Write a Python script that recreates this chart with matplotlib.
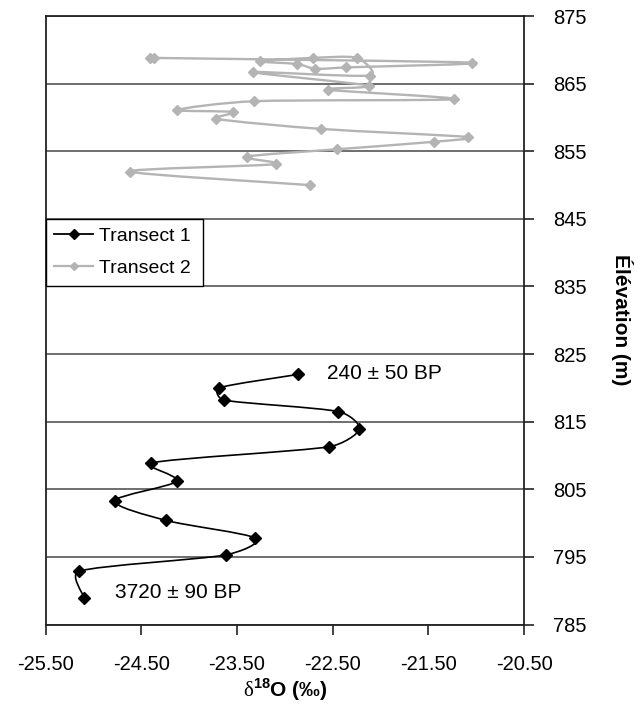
import numpy as np
import matplotlib
matplotlib.use("Agg")
import matplotlib.pyplot as plt
from matplotlib.path import Path
from matplotlib.patches import PathPatch
from matplotlib.lines import Line2D

plt.rcParams['font.family'] = ['Liberation Sans', 'DejaVu Sans']
plt.rcParams['mathtext.fontset'] = 'custom'
plt.rcParams['mathtext.rm'] = 'Liberation Serif'
plt.rcParams['mathtext.bf'] = 'Liberation Sans:bold'

# Transect 1 (noir)
t1_d18o = [-22.86, -23.69, -23.64, -22.44, -22.22, -22.54, -24.40,
           -24.13, -24.78, -24.24, -23.31, -23.62, -25.15, -25.10]
t1_elev = [822.0, 820.0, 818.2, 816.5, 813.9, 811.3, 808.9,
           806.2, 803.3, 800.4, 797.8, 795.3, 792.9, 789.0]

# Transect 2 (gris)
t2_d18o = [-22.74, -24.62, -23.09, -23.40, -22.45, -21.44, -21.09,
           -22.62, -23.72, -23.54, -24.13, -23.32, -21.23, -22.55,
           -22.12, -23.33, -22.11, -22.25, -22.71, -23.26, -22.87,
           -22.68, -22.36, -21.04, -24.37, -24.41]
t2_elev = [850.0, 852.0, 853.1, 854.2, 855.3, 856.4, 857.1,
           858.3, 859.8, 860.8, 861.1, 862.4, 862.7, 864.1,
           864.7, 866.7, 866.2, 868.8, 868.8, 868.3, 867.9,
           867.2, 867.4, 868.1, 868.8, 868.8]

x_ticks = [-25.5, -24.5, -23.5, -22.5, -21.5, -20.5]
y_ticks = [785, 795, 805, 815, 825, 835, 845, 855, 865, 875]

labels_ages = ['240 ± 50 BP', '3720 ± 90 BP']
ages_pos = [(-22.56, 822.1), (-24.78, 789.8)]

GRAY = '#b4b4b4'


def smooth_path(ax, x, y, k=7.0, cap=0.4):
    # courbe lissee facon Excel (Catmull-Rom en pixels, poignees bornees)
    p = ax.transData.transform(np.column_stack([x, y]))
    n = len(p)

    def clamp(v, lim):
        m = np.hypot(*v)
        return v * (lim / m) if m > lim else v

    verts = [p[0]]
    codes = [Path.MOVETO]
    for i in range(n - 1):
        seg = np.hypot(*(p[i + 1] - p[i]))
        v1 = clamp((p[i + 1] - p[max(i - 1, 0)]) / k, cap * seg)
        v2 = clamp((p[min(i + 2, n - 1)] - p[i]) / k, cap * seg)
        verts += [p[i] + v1, p[i + 1] - v2, p[i + 1]]
        codes += [Path.CURVE4] * 3
    inv = ax.transData.inverted()
    return Path(inv.transform(np.array(verts)), codes)


fig = plt.figure(figsize=(6.41, 7.08), dpi=100)
ax = fig.add_axes([0.0713, 0.1178, 0.7462, 0.8596])
ax.set_xlim(-25.5, -20.5)
ax.set_ylim(785, 875)

for y in y_ticks:
    ax.axhline(y, color='#555555', lw=1.2, zorder=1)

ax.add_patch(PathPatch(smooth_path(ax, t2_d18o, t2_elev), fc='none', ec=GRAY, lw=1.7, zorder=2))
ax.plot(t2_d18o, t2_elev, 'D', color=GRAY, ms=5.6, zorder=3)

ax.add_patch(PathPatch(smooth_path(ax, t1_d18o, t1_elev), fc='none', ec='black', lw=1.2, zorder=4))
ax.plot(t1_d18o, t1_elev, 'D', color='black', ms=5.8, zorder=5)

for txt, (x, y) in zip(labels_ages, ages_pos):
    ax.text(x, y, txt, ha='left', va='center', fontsize=15)

ax.set_xticks(x_ticks)
ax.set_xticklabels([f"{v:.2f}" for v in x_ticks])
ax.set_yticks(y_ticks)
ax.yaxis.tick_right()
ax.tick_params(direction='out', length=7, width=1.2, color='#222222', labelsize=14.5)
ax.tick_params(axis='x', pad=15)
ax.tick_params(axis='y', pad=14)
for s in ax.spines.values():
    s.set_color('#222222')
    s.set_linewidth(1.3)

h1 = Line2D([], [], color='black', lw=1.3, marker='D', ms=5)
h2 = Line2D([], [], color=GRAY, lw=1.6, marker='D', ms=4.5)
leg = ax.legend([h1, h2], ['Transect 1', 'Transect 2'], loc='upper left',
                bbox_to_anchor=(0, (845 - 785) / 90, (203 - 45.7) / 478.3, 0),
                mode='expand', borderaxespad=0, fancybox=False, edgecolor='black',
                framealpha=1, fontsize=14, handlelength=2.0, handletextpad=0.3,
                borderpad=0.45, labelspacing=0.72, numpoints=1)
leg.get_frame().set_linewidth(1.0)

fig.text(285 / 641, 1 - 690 / 708, r'$\mathrm{\delta}^{\mathbf{18}}$' + 'O (‰)', ha='center', va='center',
         fontsize=15, fontweight='bold')
fig.text(622 / 641, 1 - 320 / 708, 'Élévation (m)', rotation=-90, ha='center', va='center',
         fontsize=15, fontweight='bold')

fig.savefig('out.png', dpi=100)
